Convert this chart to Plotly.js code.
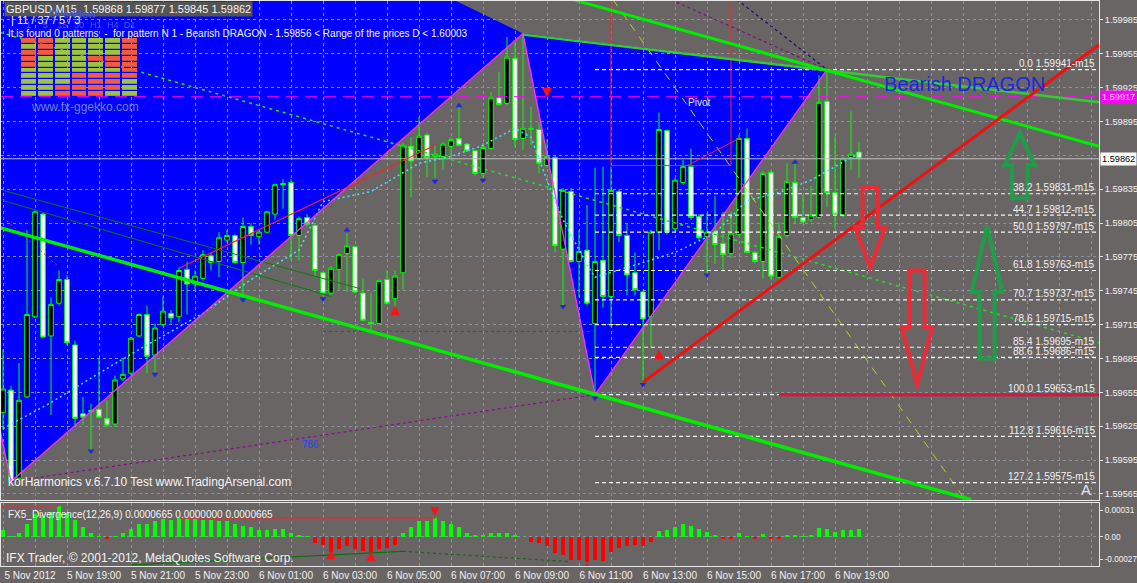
<!DOCTYPE html>
<html>
<head>
<meta charset="utf-8">
<script src="https://cdn.plot.ly/plotly-3.0.1.min.js"></script>
<style>
html,body{margin:0;padding:0;background:#6a6565;overflow:hidden;}
#chart{width:1137px;height:583px;}
</style>
</head>
<body>
<div id="chart"></div>
<script>
// ================= DATA =================
const symbolName = "GBPUSD,M15";
const timeLabels = ["5 Nov 2012","5 Nov 19:00","5 Nov 21:00","5 Nov 23:00","6 Nov 01:00","6 Nov 03:00","6 Nov 05:00","6 Nov 07:00","6 Nov 09:00","6 Nov 11:00","6 Nov 13:00","6 Nov 15:00","6 Nov 17:00","6 Nov 19:00"];
const barsPerLabel = 8;

const opens = [
1.59637,1.59657,1.59579,1.59651,1.59722,1.59813,1.59705,1.59734,1.59755,1.59697,
1.59636,1.59639,1.59640,1.59632,1.59627,1.59667,1.59672,1.59705,1.59724,1.59688,
1.59715,1.59725,1.59722,1.59764,1.59751,1.59756,1.59776,1.59771,1.59790,1.59794,
1.59770,1.59802,1.59793,1.59797,1.59813,1.59840,1.59841,1.59794,1.59810,1.59803,
1.59761,1.59743,1.59764,1.59778,1.59784,1.59743,1.59717,1.59716,1.59755,1.59738,
1.59761,1.59873,1.59862,1.59883,1.59864,1.59864,1.59873,1.59880,1.59875,1.59869,
1.59849,1.59871,1.59916,1.59911,1.59951,1.59880,1.59888,1.59888,1.59856,1.59863,
1.59782,1.59833,1.59771,1.59781,1.59716,1.59772,1.59740,1.59833,1.59794,1.59761,
1.59744,1.59722,1.59797,1.59887,1.59800,1.59841,1.59855,1.59811,1.59793,1.59797,
1.59787,1.59778,1.59795,1.59880,1.59779,1.59771,1.59850,1.59757,1.59794,1.59841,
1.59810,1.59808,1.59810,1.59913,1.59832,1.59812,1.59863,1.59868];
const highs = [
1.59693,1.59661,1.59681,1.59799,1.59817,1.59814,1.59739,1.59763,1.59759,1.59701,
1.59651,1.59645,1.59685,1.59648,1.59670,1.59685,1.59704,1.59725,1.59732,1.59716,
1.59740,1.59728,1.59766,1.59771,1.59763,1.59781,1.59779,1.59797,1.59799,1.59795,
1.59810,1.59805,1.59799,1.59816,1.59840,1.59844,1.59844,1.59811,1.59813,1.59804,
1.59762,1.59767,1.59778,1.59796,1.59785,1.59756,1.59743,1.59755,1.59763,1.59763,
1.59876,1.59881,1.59899,1.59885,1.59874,1.59877,1.59881,1.59908,1.59876,1.59870,
1.59876,1.59921,1.59939,1.59970,1.59965,1.59973,1.59908,1.59894,1.59879,1.59865,
1.59836,1.59836,1.59799,1.59821,1.59854,1.59855,1.59855,1.59835,1.59805,1.59779,
1.59746,1.59799,1.59903,1.59888,1.59845,1.59861,1.59871,1.59813,1.59814,1.59829,
1.59815,1.59815,1.59883,1.59889,1.59780,1.59851,1.59852,1.59806,1.59858,1.59858,
1.59830,1.59838,1.59936,1.59941,1.59882,1.59864,1.59904,1.59877];
const lows = [
1.59622,1.59576,1.59577,1.59650,1.59721,1.59703,1.59635,1.59732,1.59697,1.59626,
1.59626,1.59601,1.59632,1.59624,1.59625,1.59665,1.59670,1.59704,1.59672,1.59673,
1.59714,1.59716,1.59717,1.59724,1.59746,1.59754,1.59763,1.59757,1.59788,1.59769,
1.59740,1.59786,1.59786,1.59796,1.59808,1.59818,1.59772,1.59772,1.59802,1.59757,
1.59741,1.59741,1.59746,1.59744,1.59743,1.59718,1.59709,1.59715,1.59733,1.59725,
1.59746,1.59828,1.59861,1.59846,1.59845,1.59852,1.59864,1.59873,1.59868,1.59847,
1.59845,1.59870,1.59909,1.59909,1.59872,1.59870,1.59874,1.59849,1.59854,1.59779,
1.59731,1.59770,1.59739,1.59732,1.59653,1.59730,1.59713,1.59788,1.59741,1.59741,
1.59664,1.59694,1.59781,1.59795,1.59798,1.59839,1.59808,1.59790,1.59761,1.59769,
1.59762,1.59774,1.59794,1.59778,1.59769,1.59756,1.59755,1.59755,1.59792,1.59805,
1.59804,1.59806,1.59809,1.59819,1.59800,1.59810,1.59852,1.59845];
const closes = [
1.59658,1.59577,1.59648,1.59724,1.59815,1.59704,1.59733,1.59755,1.59699,1.59632,
1.59633,1.59638,1.59633,1.59626,1.59666,1.59671,1.59703,1.59724,1.59687,1.59712,
1.59727,1.59721,1.59763,1.59751,1.59758,1.59777,1.59770,1.59792,1.59794,1.59770,
1.59802,1.59794,1.59797,1.59815,1.59839,1.59839,1.59794,1.59809,1.59804,1.59763,
1.59743,1.59765,1.59777,1.59785,1.59744,1.59719,1.59716,1.59754,1.59734,1.59758,
1.59874,1.59860,1.59882,1.59863,1.59866,1.59875,1.59879,1.59874,1.59869,1.59849,
1.59872,1.59916,1.59910,1.59952,1.59879,1.59889,1.59889,1.59858,1.59864,1.59785,
1.59834,1.59771,1.59780,1.59734,1.59771,1.59740,1.59834,1.59794,1.59759,1.59746,
1.59720,1.59797,1.59888,1.59797,1.59843,1.59855,1.59810,1.59792,1.59797,1.59786,
1.59777,1.59796,1.59880,1.59779,1.59771,1.59849,1.59758,1.59793,1.59842,1.59810,
1.59806,1.59812,1.59912,1.59832,1.59813,1.59862,1.59866,1.59862];

// FX5_Divergence histogram
const macdHist = [
6.1e-5,1.0e-5,3.0e-5,1.2e-4,2.1e-4,2.0e-4,2.3e-4,2.8e-4,2.15e-4,1.5e-4,
9.0e-5,3.7e-5,1.0e-5,-2.0e-5,1.0e-5,3.0e-5,6.7e-5,1.2e-4,1.2e-4,1.45e-4,
1.6e-4,1.55e-4,1.7e-4,1.6e-4,1.6e-4,1.5e-4,1.5e-4,1.4e-4,1.4e-4,1.2e-4,
1.0e-4,8.6e-5,6.0e-5,6.0e-5,6.7e-5,6.7e-5,3.7e-5,2.0e-5,3.0e-6,-5.5e-5,
-7.7e-5,-1.4e-4,-1.1e-4,-9.0e-5,-1.1e-4,-1.3e-4,-1.4e-4,-1.1e-4,-1.0e-4,-7.7e-5,
3.7e-5,9.0e-5,1.45e-4,1.45e-4,1.7e-4,1.4e-4,1.2e-4,9.0e-5,3.7e-5,2.0e-5,
1.5e-5,3.0e-5,3.7e-5,3.0e-5,1.5e-5,-6.0e-6,-5.0e-5,-6.0e-5,-8.6e-5,-1.5e-4,
-1.7e-4,-2.15e-4,-2.15e-4,-2.3e-4,-2.15e-4,-2.2e-4,-1.4e-4,-1.0e-4,-9.0e-5,-7.7e-5,
-9.0e-5,-4.6e-5,5.5e-5,6.0e-5,9.0e-5,1.2e-4,1.0e-4,6.7e-5,4.6e-5,1.5e-5,
-2.5e-5,-2.5e-5,3.7e-5,6.0e-6,-2.5e-5,2.5e-5,-1.8e-5,-2.5e-5,1.5e-5,1.5e-5,
1.0e-5,1.5e-5,8.3e-5,6.7e-5,4.6e-5,6.0e-5,6.0e-5,6.65e-5];
const macdTop = 0.00031, macdBottom = -0.00027;

// Fibonacci levels of the pattern
const fibRatios = [0.0, 38.2, 44.7, 50.0, 61.8, 70.7, 78.6, 85.4, 88.6, 100.0, 112.8, 127.2];
const fibPrices = [1.59941,1.59831,1.59812,1.59797,1.59763,1.59737,1.59715,1.59695,1.59686,1.59653,1.59616,1.59575];
const fibStartBar = 74;

// harmonic pattern points X, A, B, C and the outer apex of the first triangle
const patternBars   = [1, 65, 74, 103];
const patternPrices = [1.59576, 1.59973, 1.59653, 1.59941];
const outerApexBar = [-19.6], outerApexPrice = [1.60265];

// D range
const dRangeLow = 1.59856, dRangeHigh = 1.60003;
const dRangeBars = [76, 91];
const pivotBars = [85.5, 92], pivotPrices = [1.59856, 1.59880];

// trend / channel lines
const lowerChannelBars = [-0.4, 121], lowerChannelPrices = [1.59801, 1.59560];
const acLineBars = [65, 137], acLinePrices = [1.59972, 1.59912];
const cParallelBars = [71.25, 137], cParallelPrices = [1.60003, 1.59873];
const redTrendBars = [80, 137], redTrendPrices = [1.59664, 1.59963];
const redThinBars = [22, 54], redThinPrices = [1.59765, 1.59874];
const redDotBars = [0, 7], redDotPrices = [1.59810, 1.59766];
const redLevelBars = [97, 137], redLevelPrice = 1.59653;
const darkGreenABars = [0, 44.6], darkGreenAPrices = [1.59834, 1.59747];
const darkGreenBBars = [0, 41], darkGreenBPrices = [1.59825, 1.59740];
const darkGreenFlatBars = [40, 74], darkGreenFlatPrice = 1.59709;
const greenDotBars = [-0.4, 137], greenDotPrices = [1.59974, 1.59699];
const yellowDashBars = [76.25, 120.25], yellowDashPrices = [1.60003, 1.59560];
const xbDotBars = [1, 74], xbDotPrices = [1.59576, 1.59653];
const navyDotBars = [91.75, 103], navyDotPrices = [1.60003, 1.59941];
const purpleDotBars = [83.5, 103], purpleDotPrices = [1.60003, 1.59941];
const magentaLevel = 1.59917;
const bidPrice = closes[closes.length - 1];

// cyan indicator line
const maBars = [0,6,12,17,25,31,37,40,46,52,56,60,64,66,68,70,73,74,80,84,89,93,97,101,107];
const maPrices = [1.59623,1.59646,1.59672,1.59693,1.59725,1.59755,1.59781,1.59824,1.59833,1.59858,1.59864,1.59874,1.59889,1.59881,1.59843,1.59808,1.59768,1.59757,1.59770,1.59779,1.59796,1.59825,1.59832,1.59843,1.59867];

// fractal and signal markers
const lowFractalBars = [11,19,30,40,54,60,70,74,80,88];
const lowFractalPrices = [1.59603,1.59671,1.59737,1.59738,1.59842,1.59843,1.59731,1.59650,1.59662,1.59759];
const highFractalBars = [43,57,99];
const highFractalPrices = [1.59799,1.59909,1.59859];
const redDownBars = [68], redDownPrices = [1.59916];
const redUpBars = [49, 82], redUpPrices = [1.59732, 1.59693];

// big signal arrows (tail -> tip)
const signalArrowBars  = [108.4, 114.25, 127.1, 123.0];
const signalArrowTails = [1.59837, 1.59763, 1.59827, 1.59685];
const signalArrowTips  = [1.59766, 1.59662, 1.59885, 1.59803];

// FX5 divergence lines / arrows
const divRedDotBars = [-0.3, 7], divRedDotVals = [2.8e-4, 2.8e-4];
const divRedBars = [22, 54], divRedVals = [1.72e-4, 1.72e-4];
const divGreenBars = [16, 50], divGreenVals = [-2.6e-4, -1.35e-4];
const divGreenDotBars = [50, 71], divGreenDotVals = [-1.35e-4, -2.3e-4];
const divDownBars = [7, 54], divDownVals = [3.0e-4, 1.9e-4];
const divUpBars = [41, 46, 73], divUpVals = [-1.25e-4, -1.38e-4, -2.35e-4];

// fx-ggekko panel (1 = green, 0 = red)
const gekkoFrames = ["1","5","15","30","H1","H4","D1"];
const gekkoSignals = [
 [0,0,1,1,1,1,0],
 [1,0,1,1,1,1,0],
 [0,0,1,1,1,1,0],
 [0,1,1,1,0,0,0],
 [0,1,1,1,1,0,0],
 [1,1,1,1,1,1,0],
 [1,1,1,0,0,0,0],
 [1,1,1,0,0,0,1],
 [1,1,0,0,0,0,1],
 [1,1,0,0,0,1,1]];

// ================= LAYOUT HELPERS =================
const FONT = "Liberation Sans, Arial, sans-serif";
const W = 1137, H = 583, ML = 1, MR = 38, MT = 1, MB = 17;
const plotW = W - ML - MR, plotH = H - MT - MB;
const fx = x => (x - ML) / plotW;
const fy = y => (H - MB - y) / plotH;
const xRange = [-0.25, 137];
const xEnd = xRange[1];
const mainRange = [1.5955965, 1.600018];
const BG = "#6a6565";
const GRID = "#8793a3";
const AXFONT = 9.2;

const bars = opens.map((_, i) => i);
const n = bars.length;
const fmt = v => v.toFixed(5);

const traces = [];

// candles
traces.push({
  type: "candlestick", x: bars, open: opens, high: highs, low: lows, close: closes,
  xaxis: "x", yaxis: "y",
  increasing: {fillcolor: "#000000", line: {color: "#00ff00", width: 1}},
  decreasing: {fillcolor: "#ffffff", line: {color: "#00ff00", width: 1}},
  whiskerwidth: 0, hoverinfo: "skip", showlegend: false
});

function seg(xs, ys, color, width, dash, yaxis) {
  traces.push({type: "scatter", mode: "lines", x: xs, y: ys, xaxis: "x", yaxis: yaxis || "y",
    line: {color: color, width: width, dash: dash || "solid"}, hoverinfo: "skip", showlegend: false});
}

// horizontal levels
seg([xRange[0], xEnd], [magentaLevel, magentaLevel], "#ff00ff", 1, "12px,7px");
seg([xRange[0], xEnd], [bidPrice, bidPrice], "#bdbdbd", 1);

// thin / dotted auxiliary lines
seg(greenDotBars, greenDotPrices, "#22e022", 1.5, "3px,4px");
seg(darkGreenABars, darkGreenAPrices, "#0a7a0a", 1);
seg(darkGreenBBars, darkGreenBPrices, "#0a7a0a", 1);
seg(darkGreenFlatBars, [darkGreenFlatPrice, darkGreenFlatPrice], "#0a7a0a", 1, "3px,3px");
seg(xbDotBars, xbDotPrices, "#8a0a8a", 1.2, "3px,3px");
seg(navyDotBars, navyDotPrices, "#101070", 1.2, "3px,3px");
seg(purpleDotBars, purpleDotPrices, "#7a107a", 1.2, "3px,3px");
seg(yellowDashBars, yellowDashPrices, "#a8d820", 1, "8px,7px");
seg(maBars, maPrices, "#3ee6ff", 1.5, "2px,3px");
seg(redDotBars, redDotPrices, "#ff2020", 1, "2px,3px");

// pattern edges (magenta)
seg([outerApexBar[0], patternBars[0]], [outerApexPrice[0], patternPrices[0]], "#ff30ff", 1.3);
seg(patternBars, patternPrices, "#ff30ff", 1.3);

// fib levels
const fibX = [], fibY = [];
fibPrices.forEach(p => { fibX.push(fibStartBar, xEnd, null); fibY.push(p, p, null); });
seg(fibX, fibY, "#f4f4f4", 1.2, "4px,3px");

// D range box and pivot
seg([dRangeBars[0], dRangeBars[0], dRangeBars[1], dRangeBars[1]], [dRangeHigh, dRangeLow, dRangeLow, dRangeHigh], "#ff2222", 1);
seg(pivotBars, pivotPrices, "#ff2222", 1);
seg(redThinBars, redThinPrices, "#ff2020", 1.2);

// heavy lines
seg(lowerChannelBars, lowerChannelPrices, "#00ee00", 3.5);
seg(acLineBars, acLinePrices, "#33cc33", 2.5);
seg(cParallelBars, cParallelPrices, "#00ee00", 3);
seg(redTrendBars, redTrendPrices, "#f01010", 3);
seg(redLevelBars, [redLevelPrice, redLevelPrice], "#dc143c", 3);

// markers
traces.push({type: "scatter", mode: "markers", x: lowFractalBars, y: lowFractalPrices, xaxis: "x", yaxis: "y",
  marker: {symbol: "triangle-down", size: 6, color: "#1a2ad8"}, hoverinfo: "skip", showlegend: false});
traces.push({type: "scatter", mode: "markers", x: highFractalBars, y: highFractalPrices, xaxis: "x", yaxis: "y",
  marker: {symbol: "triangle-up", size: 6, color: "#1a2ad8"}, hoverinfo: "skip", showlegend: false});
traces.push({type: "scatter", mode: "markers", x: redDownBars, y: redDownPrices, xaxis: "x", yaxis: "y",
  marker: {symbol: "arrow-down", size: 10, color: "#ff1010"}, hoverinfo: "skip", showlegend: false});
traces.push({type: "scatter", mode: "markers", x: redUpBars, y: redUpPrices, xaxis: "x", yaxis: "y",
  marker: {symbol: "arrow-up", size: 10, color: "#ff1010"}, hoverinfo: "skip", showlegend: false});

// ---- FX5 divergence subwindow ----
traces.push({type: "bar", x: bars, y: macdHist, xaxis: "x", yaxis: "y2", width: 0.5,
  marker: {color: macdHist.map(v => v >= 0 ? "#00ff00" : "#ff0000"), line: {width: 0}},
  hoverinfo: "skip", showlegend: false});
seg(divRedDotBars, divRedDotVals, "#ff2020", 1.2, "3px,2px", "y2");
seg(divRedBars, divRedVals, "#ff2020", 1.2, "solid", "y2");
seg(divGreenBars, divGreenVals, "#0b6e0b", 1.2, "solid", "y2");
seg(divGreenDotBars, divGreenDotVals, "#0b6e0b", 1.2, "3px,3px", "y2");
traces.push({type: "scatter", mode: "markers", x: divDownBars, y: divDownVals, xaxis: "x", yaxis: "y2",
  marker: {symbol: "arrow-down", size: 9, color: "#ff1010"}, hoverinfo: "skip", showlegend: false});
traces.push({type: "scatter", mode: "markers", x: divUpBars, y: divUpVals, xaxis: "x", yaxis: "y2",
  marker: {symbol: "arrow-up", size: 9, color: "#ff1010"}, hoverinfo: "skip", showlegend: false});

// ---- gekko panel ----
traces.push({type: "heatmap", z: gekkoSignals, x: gekkoFrames.map((_, i) => i), y: gekkoSignals.map((_, i) => i),
  xaxis: "x3", yaxis: "y3", colorscale: [[0, "#f25c3c"], [1, "#9ec43a"]], zmin: 0, zmax: 1,
  showscale: false, xgap: 2, ygap: 1.2, hoverinfo: "skip"});

// ================= SHAPES =================
const shapes = [];
const P = (b, p) => b + "," + p;
shapes.push({type: "path", xref: "x", yref: "y", layer: "below", fillcolor: "#0000ff", line: {width: 0},
  path: "M" + P(outerApexBar[0], outerApexPrice[0]) + " L" + P(patternBars[0], patternPrices[0]) + " L" + P(patternBars[1], patternPrices[1]) + " Z"});
shapes.push({type: "path", xref: "x", yref: "y", layer: "below", fillcolor: "#0000ff", line: {width: 0},
  path: "M" + P(patternBars[1], patternPrices[1]) + " L" + P(patternBars[2], patternPrices[2]) + " L" + P(patternBars[3], patternPrices[3]) + " Z"});

const shaftHalf = 0.95, headHalf = 1.9;
signalArrowBars.forEach((b, i) => {
  const tail = signalArrowTails[i], tip = signalArrowTips[i];
  const base = tail + 0.5 * (tip - tail);
  const col = tip < tail ? "#ec2a36" : "#1f9e4a";
  const path = "M" + P(b - shaftHalf, tail) + " L" + P(b - shaftHalf, base) + " L" + P(b - headHalf, base) +
    " L" + P(b, tip) + " L" + P(b + headHalf, base) + " L" + P(b + shaftHalf, base) + " L" + P(b + shaftHalf, tail) + " Z";
  shapes.push({type: "path", xref: "x", yref: "y", layer: "above", path: path,
    line: {color: col, width: 4}, fillcolor: "rgba(0,0,0,0)"});
});

// ================= ANNOTATIONS =================
const ann = [];
function txt(text, x, y, size, color, extra) {
  ann.push(Object.assign({text: text, xref: "paper", yref: "paper", x: fx(x), y: fy(y),
    xanchor: "left", yanchor: "middle", showarrow: false,
    font: {family: FONT, size: size, color: color}}, extra || {}));
}
const last = n - 1;
txt(symbolName + "\u00a0\u00a0" + fmt(opens[last]) + " " + fmt(highs[last]) + " " + fmt(lows[last]) + " " + fmt(closes[last]),
  4, 9, 11, "#f4f4f4", {bgcolor: "#555555", borderpad: 1});
txt("OverFlow", 47, 14, 11, "#4b5bd6");
txt("| 11 / 37 / 5 / 3", 9, 20, 11, "#f4f4f4");
txt("It is found 0 patterns\u00a0\u00a0-\u00a0\u00a0for pattern N 1 - Bearish DRAGON - " + fmt(dRangeLow) + " &lt; Range of the prices D &lt; " + fmt(dRangeHigh),
  6, 33, 10, "#f4f4f4");
txt("www.fx-ggekko.com", 29, 107, 12, "#6f82d2");
txt("Pivot", 686, 103, 10, "#e6e6e6");
txt("Bearish DRAGON", 882, 84, 20, "#1428e6");
txt("786", 300, 445, 10, "#2a40ff");
txt("korHarmonics v.6.7.10 Test www.TradingArsenal.com", 6, 482, 12, "#f4f4f4");
txt("A", 1079, 489, 15, "#dfe4ff");
txt("FX5_Divergence(12,26,9) " + macdHist[last].toFixed(7) + " 0.0000000 " + macdHist[last].toFixed(7), 6, 514, 10, "#f4f4f4");
txt("IFX Trader, \u00a9 2001-2012, MetaQuotes Software Corp.", 4, 558, 12, "#f4f4f4");

fibRatios.forEach((r, i) => ann.push({
  text: r.toFixed(1) + " " + fmt(fibPrices[i]) + "-m15", xref: "paper", x: fx(1097), xanchor: "right",
  yref: "y", y: fibPrices[i], yanchor: "middle", yshift: 6, showarrow: false,
  font: {family: FONT, size: 10, color: "#f0f0f0"}}));

ann.push({text: fmt(magentaLevel), xref: "paper", x: 1, xanchor: "left", xshift: 1, yref: "y", y: magentaLevel,
  yanchor: "middle", showarrow: false, bgcolor: "#ff00ff", borderpad: 1, font: {family: FONT, size: AXFONT, color: "#ffd8ff"}});
ann.push({text: fmt(bidPrice), xref: "paper", x: 1, xanchor: "left", xshift: 1, yref: "y", y: bidPrice,
  yanchor: "middle", showarrow: false, bgcolor: "#ffffff", borderpad: 1, font: {family: FONT, size: AXFONT, color: "#000000"}});

// ================= AXES =================
const gridVals = [], gridText = [];
for (let k = 0; k <= 136; k += 4) {
  gridVals.push(k);
  const li = k / barsPerLabel;
  gridText.push(k % barsPerLabel === 0 && li < timeLabels.length ? timeLabels[li] : "");
}
const priceTicks = [], priceText = [];
for (let i = 0; i <= 14; i++) {
  const v = 1.59565 + 0.0003 * i;
  priceTicks.push(v);
  priceText.push(Math.abs(v - 1.59865) < 1e-7 ? "" : fmt(v));
}
const inset = (macdTop - macdBottom) * 7 / 63;

const layout = {
  width: W, height: H,
  margin: {l: ML, r: MR, t: MT, b: MB, pad: 0},
  paper_bgcolor: BG, plot_bgcolor: "rgba(0,0,0,0)",
  showlegend: false, boxgap: 0.18, bargap: 0,
  font: {family: FONT, color: "#f2f2f2", size: 10},
  xaxis: {
    domain: [0, 1], anchor: "y2", range: xRange, type: "linear",
    rangeslider: {visible: false},
    tickmode: "array", tickvals: gridVals, ticktext: gridText, ticks: "",
    ticklabelshift: 27, tickfont: {family: FONT, size: 10, color: "#f2f2f2"},
    showgrid: true, gridcolor: GRID, griddash: "3px,3px", gridwidth: 1,
    zeroline: false, showline: true, linecolor: "#e6e6e6", linewidth: 1, mirror: "all", fixedrange: true
  },
  yaxis: {
    domain: [fy(500), 1], anchor: "x", side: "right", range: mainRange,
    tickmode: "array", tickvals: priceTicks, ticktext: priceText,
    ticks: "outside", ticklen: 3, tickcolor: "#e6e6e6",
    tickfont: {family: FONT, size: AXFONT, color: "#f2f2f2"},
    showgrid: true, gridcolor: GRID, griddash: "3px,3px", gridwidth: 1,
    zeroline: false, showline: true, linecolor: "#e6e6e6", linewidth: 1, mirror: true, fixedrange: true
  },
  yaxis2: {
    domain: [0, fy(503)], anchor: "x", side: "right", range: [macdBottom, macdTop],
    tickmode: "array", tickvals: [macdTop - inset, 0, macdBottom + inset],
    ticktext: [macdTop.toFixed(5), "0.00", macdBottom.toFixed(5)],
    ticks: "outside", ticklen: 3, tickcolor: "#e6e6e6",
    tickfont: {family: FONT, size: 8.2, color: "#f2f2f2"},
    showgrid: false, zeroline: false,
    minor: {tickmode: "array", tickvals: [0], showgrid: true, gridcolor: GRID, griddash: "3px,3px", ticks: ""},
    showline: true, linecolor: "#e6e6e6", linewidth: 1, mirror: true, fixedrange: true
  },
  xaxis3: {
    domain: [fx(20), fx(138)], anchor: "y3", side: "top", range: [-0.5, 6.5],
    tickmode: "array", tickvals: gekkoFrames.map((_, i) => i), ticktext: gekkoFrames, ticks: "",
    ticklabelstandoff: 7,
    tickfont: {family: FONT, size: 9, color: "#4b5bd6"},
    showgrid: false, zeroline: false, showline: false, fixedrange: true
  },
  yaxis3: {
    domain: [fy(97), fy(38)], anchor: "x3", range: [9.5, -0.5], visible: false, fixedrange: true
  },
  shapes: shapes,
  annotations: ann
};

Plotly.newPlot("chart", traces, layout, {staticPlot: true, displayModeBar: false});
</script>
</body>
</html>
